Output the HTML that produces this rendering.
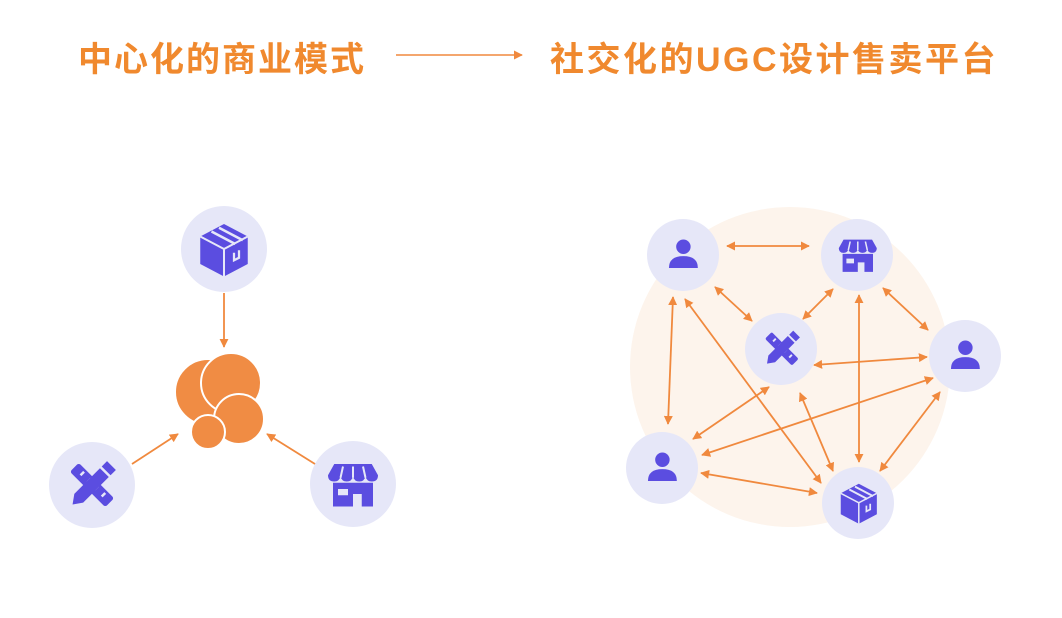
<!DOCTYPE html>
<html><head><meta charset="utf-8"><style>
body{margin:0;background:#fff;width:1062px;height:618px;overflow:hidden;font-family:"Liberation Sans","Noto Sans CJK SC",sans-serif}
.t{position:absolute;top:32px;font-size:34px;font-weight:bold;color:#f0892e;white-space:nowrap}
</style></head><body>
<div class="t" style="left:78px;letter-spacing:2px">中心化的商业模式</div>
<div class="t" style="left:550px;letter-spacing:2.5px">社交化的UGC设计售卖平台</div>
<svg width="1062" height="618" style="position:absolute;left:0;top:0">
<defs>
<marker id="a" viewBox="0 0 10 10" refX="9" refY="5" markerWidth="9" markerHeight="9" markerUnits="userSpaceOnUse" orient="auto-start-reverse"><path d="M0,0L10,5L0,10z" fill="#f0893e"/></marker>
<g id="person"><circle cx="24" cy="15" r="8.5" fill="#5b4de0"/><path d="M7,40 Q7,26 24,26 Q41,26 41,40 Z" fill="#5b4de0"/></g>
<g id="store"><path d="M9,8 H39 L44,17 Q44,22 39,22 Q35,22 34,18 Q33,22 29,22 Q25,22 24,18 Q23,22 19,22 Q15,22 14,18 Q13,22 9,22 Q4,22 4,17 Z" fill="#5b4de0"/><path d="M8,23 H40 V42 H31 V32 H24 V42 H8 Z" fill="#5b4de0"/><rect x="12" y="28" width="8" height="5" fill="#e6e7f8"/><path d="M16,10 L14,19 M24,10 V19 M32,10 L34,19" stroke="#e6e7f8" stroke-width="1.6"/></g>
<g id="box"><path d="M24,4 L43,14 V36 L24,46 L5,36 V14 Z" fill="#5b4de0"/><path d="M5,14 L24,24 L43,14 M24,24 V46" stroke="#e6e7f8" stroke-width="1.6" fill="none"/><path d="M14,10 L33,20 M20,7 L39,17" stroke="#e6e7f8" stroke-width="2"/><path d="M32,27 V33 L36,31 V25" stroke="#e6e7f8" stroke-width="1.8" fill="none"/></g>
<g id="tool"><g transform="rotate(45 24 24)"><rect x="4" y="19" width="40" height="10" rx="2" fill="#5b4de0"/><path d="M12,21 v4 M20,21 v4 M28,21 v4 M36,21 v4" stroke="#e6e7f8" stroke-width="2"/></g><g transform="rotate(-45 24 24)"><path d="M2,24 L9,19 H38 V29 H9 Z" fill="#5b4de0"/><rect x="40" y="19" width="6" height="10" fill="#5b4de0"/></g></g>
</defs>
<line x1="396" y1="55" x2="522" y2="55" stroke="#f0893e" stroke-width="1.5" marker-end="url(#a)"/>
<!-- left -->
<circle cx="224" cy="249" r="43" fill="#e6e7f8"/><use href="#box" transform="translate(194,219) scale(1.25)"/>
<circle cx="92" cy="485" r="43" fill="#e6e7f8"/><use href="#tool" transform="translate(62,455) scale(1.25)"/>
<circle cx="353" cy="484" r="43" fill="#e6e7f8"/><use href="#store" transform="translate(323,454) scale(1.25)"/>
<g stroke="#f0893e" stroke-width="1.8" marker-end="url(#a)">
<line x1="224" y1="293" x2="224" y2="347"/><line x1="132" y1="464" x2="178" y2="434"/><line x1="315" y1="464" x2="267" y2="434"/></g>
<g fill="#f08c44" stroke="#fff" stroke-width="2">
<circle cx="208" cy="392" r="33"/><circle cx="231" cy="383" r="30"/><circle cx="239" cy="419" r="25"/><circle cx="208" cy="432" r="17"/></g>
<!-- right -->
<circle cx="790" cy="367" r="160" fill="#fdf4ec"/>
<g stroke="#f0893e" stroke-width="1.8" marker-end="url(#a)" marker-start="url(#a)">
<line x1="727" y1="246" x2="809" y2="246"/><line x1="715" y1="287" x2="752" y2="321"/><line x1="833" y1="289" x2="803" y2="319"/><line x1="883" y1="288" x2="928" y2="330"/><line x1="814" y1="365" x2="927" y2="357"/><line x1="673" y1="297" x2="668" y2="424"/><line x1="685" y1="299" x2="821" y2="483"/><line x1="859" y1="295" x2="859" y2="462"/><line x1="769" y1="387" x2="693" y2="439"/><line x1="800" y1="393" x2="833" y2="471"/><line x1="933" y1="378" x2="702" y2="455"/><line x1="940" y1="392" x2="880" y2="471"/><line x1="701" y1="473" x2="817" y2="493"/></g>
<circle cx="683" cy="255" r="36" fill="#e6e7f8"/><use href="#person" transform="translate(663,234) scale(0.85)"/>
<circle cx="857" cy="255" r="36" fill="#e6e7f8"/><use href="#store" transform="translate(835,232) scale(0.95)"/>
<circle cx="781" cy="349" r="36" fill="#e6e7f8"/><use href="#tool" transform="translate(759,326) scale(0.95)"/>
<circle cx="965" cy="356" r="36" fill="#e6e7f8"/><use href="#person" transform="translate(945,335) scale(0.85)"/>
<circle cx="662" cy="468" r="36" fill="#e6e7f8"/><use href="#person" transform="translate(642,447) scale(0.85)"/>
<circle cx="858" cy="503" r="36" fill="#e6e7f8"/><use href="#box" transform="translate(836,480) scale(0.95)"/>
</svg>
</body></html>
